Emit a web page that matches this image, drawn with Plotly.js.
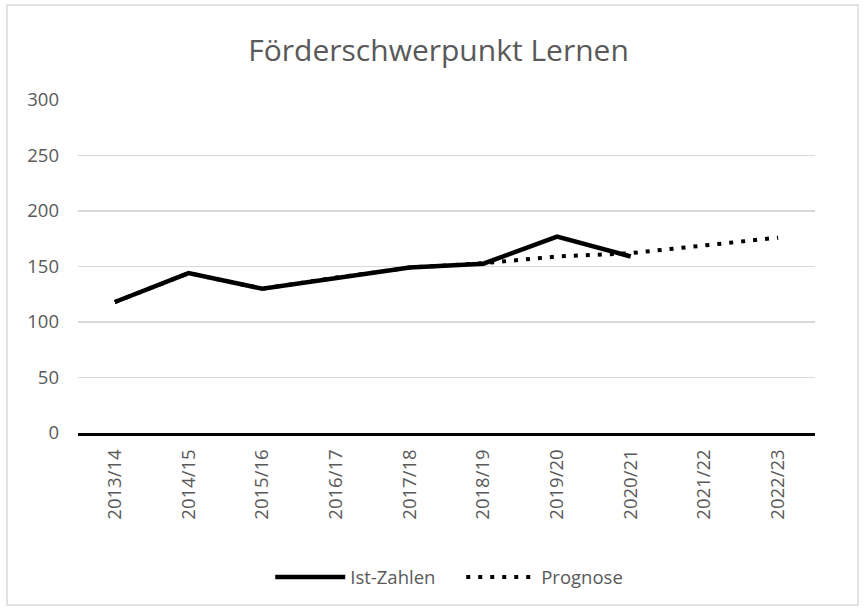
<!DOCTYPE html>
<html>
<head>
<meta charset="utf-8">
<script src="https://cdn.plot.ly/plotly-3.0.1.min.js"></script>
<style>
html,body{margin:0;padding:0;background:#fff;}
#chart{width:865px;height:610px;}
</style>
</head>
<body>
<div id="chart"></div>
<script>
const categories = ["2013/14","2014/15","2015/16","2016/17","2017/18","2018/19","2019/20","2020/21","2021/22","2022/23"];
const istZahlen = [118, 144, 130, 140, 149, 152.5, 177, 159, null, null];
const prognose = [118, 144, 130, 140, 149, 153, 159, 162, 169, 176];
const yTicks = [0, 50, 100, 150, 200, 250, 300];

const gray = "#595959";
const font = "'Open Sans', sans-serif";

const traces = [
  {
    x: categories, y: prognose, name: "Prognose", type: "scatter", mode: "lines",
    line: {color: "#000", width: 4, dash: "4px,8px"}
  },
  {
    x: categories, y: istZahlen, name: "Ist-Zahlen", type: "scatter", mode: "lines",
    line: {color: "#000", width: 4.5}
  }
];

const layout = {
  width: 865, height: 610,
  margin: {l: 78, r: 50, t: 100, b: 177},
  paper_bgcolor: "#fff", plot_bgcolor: "#fff",
  title: {text: "Förderschwerpunkt Lernen", x: 0.507, xanchor: "center", y: 0.918, yanchor: "middle",
          font: {family: font, size: 30, color: gray}},
  xaxis: {
    type: "category", categoryorder: "array", categoryarray: categories,
    showgrid: false, showline: true, linecolor: "#000", linewidth: 3,
    ticks: "", tickangle: -90, ticklabelstandoff: 6,
    tickfont: {family: font, size: 18.5, color: gray},
    range: [-0.5, categories.length - 0.5], fixedrange: true, zeroline: false
  },
  yaxis: {
    range: [0, 300], tickvals: yTicks, ticktext: yTicks.map(String),
    showgrid: true, gridcolor: "#d9d9d9", gridwidth: 1.5,
    zeroline: false, showline: false, ticks: "", ticklabelstandoff: 18,
    tickfont: {family: font, size: 18.5, color: gray}
  },
  showlegend: true,
  legend: {orientation: "h", x: 0.52, xanchor: "center", y: -0.434, yanchor: "middle",
           traceorder: "reversed", entrywidth: 106, entrywidthmode: "pixels",
           font: {family: font, size: 18.5, color: gray}, itemwidth: 70},
  shapes: [{
    type: "rect", xref: "paper", yref: "paper",
    x0: -71/737, x1: 1 + 43/737, y0: -172/333, y1: 1 + 95/333,
    line: {color: "#d9d9d9", width: 1.5}, fillcolor: "rgba(0,0,0,0)"
  }]
};

Plotly.newPlot("chart", traces, layout, {displayModeBar: false, staticPlot: true});
</script>
</body>
</html>
